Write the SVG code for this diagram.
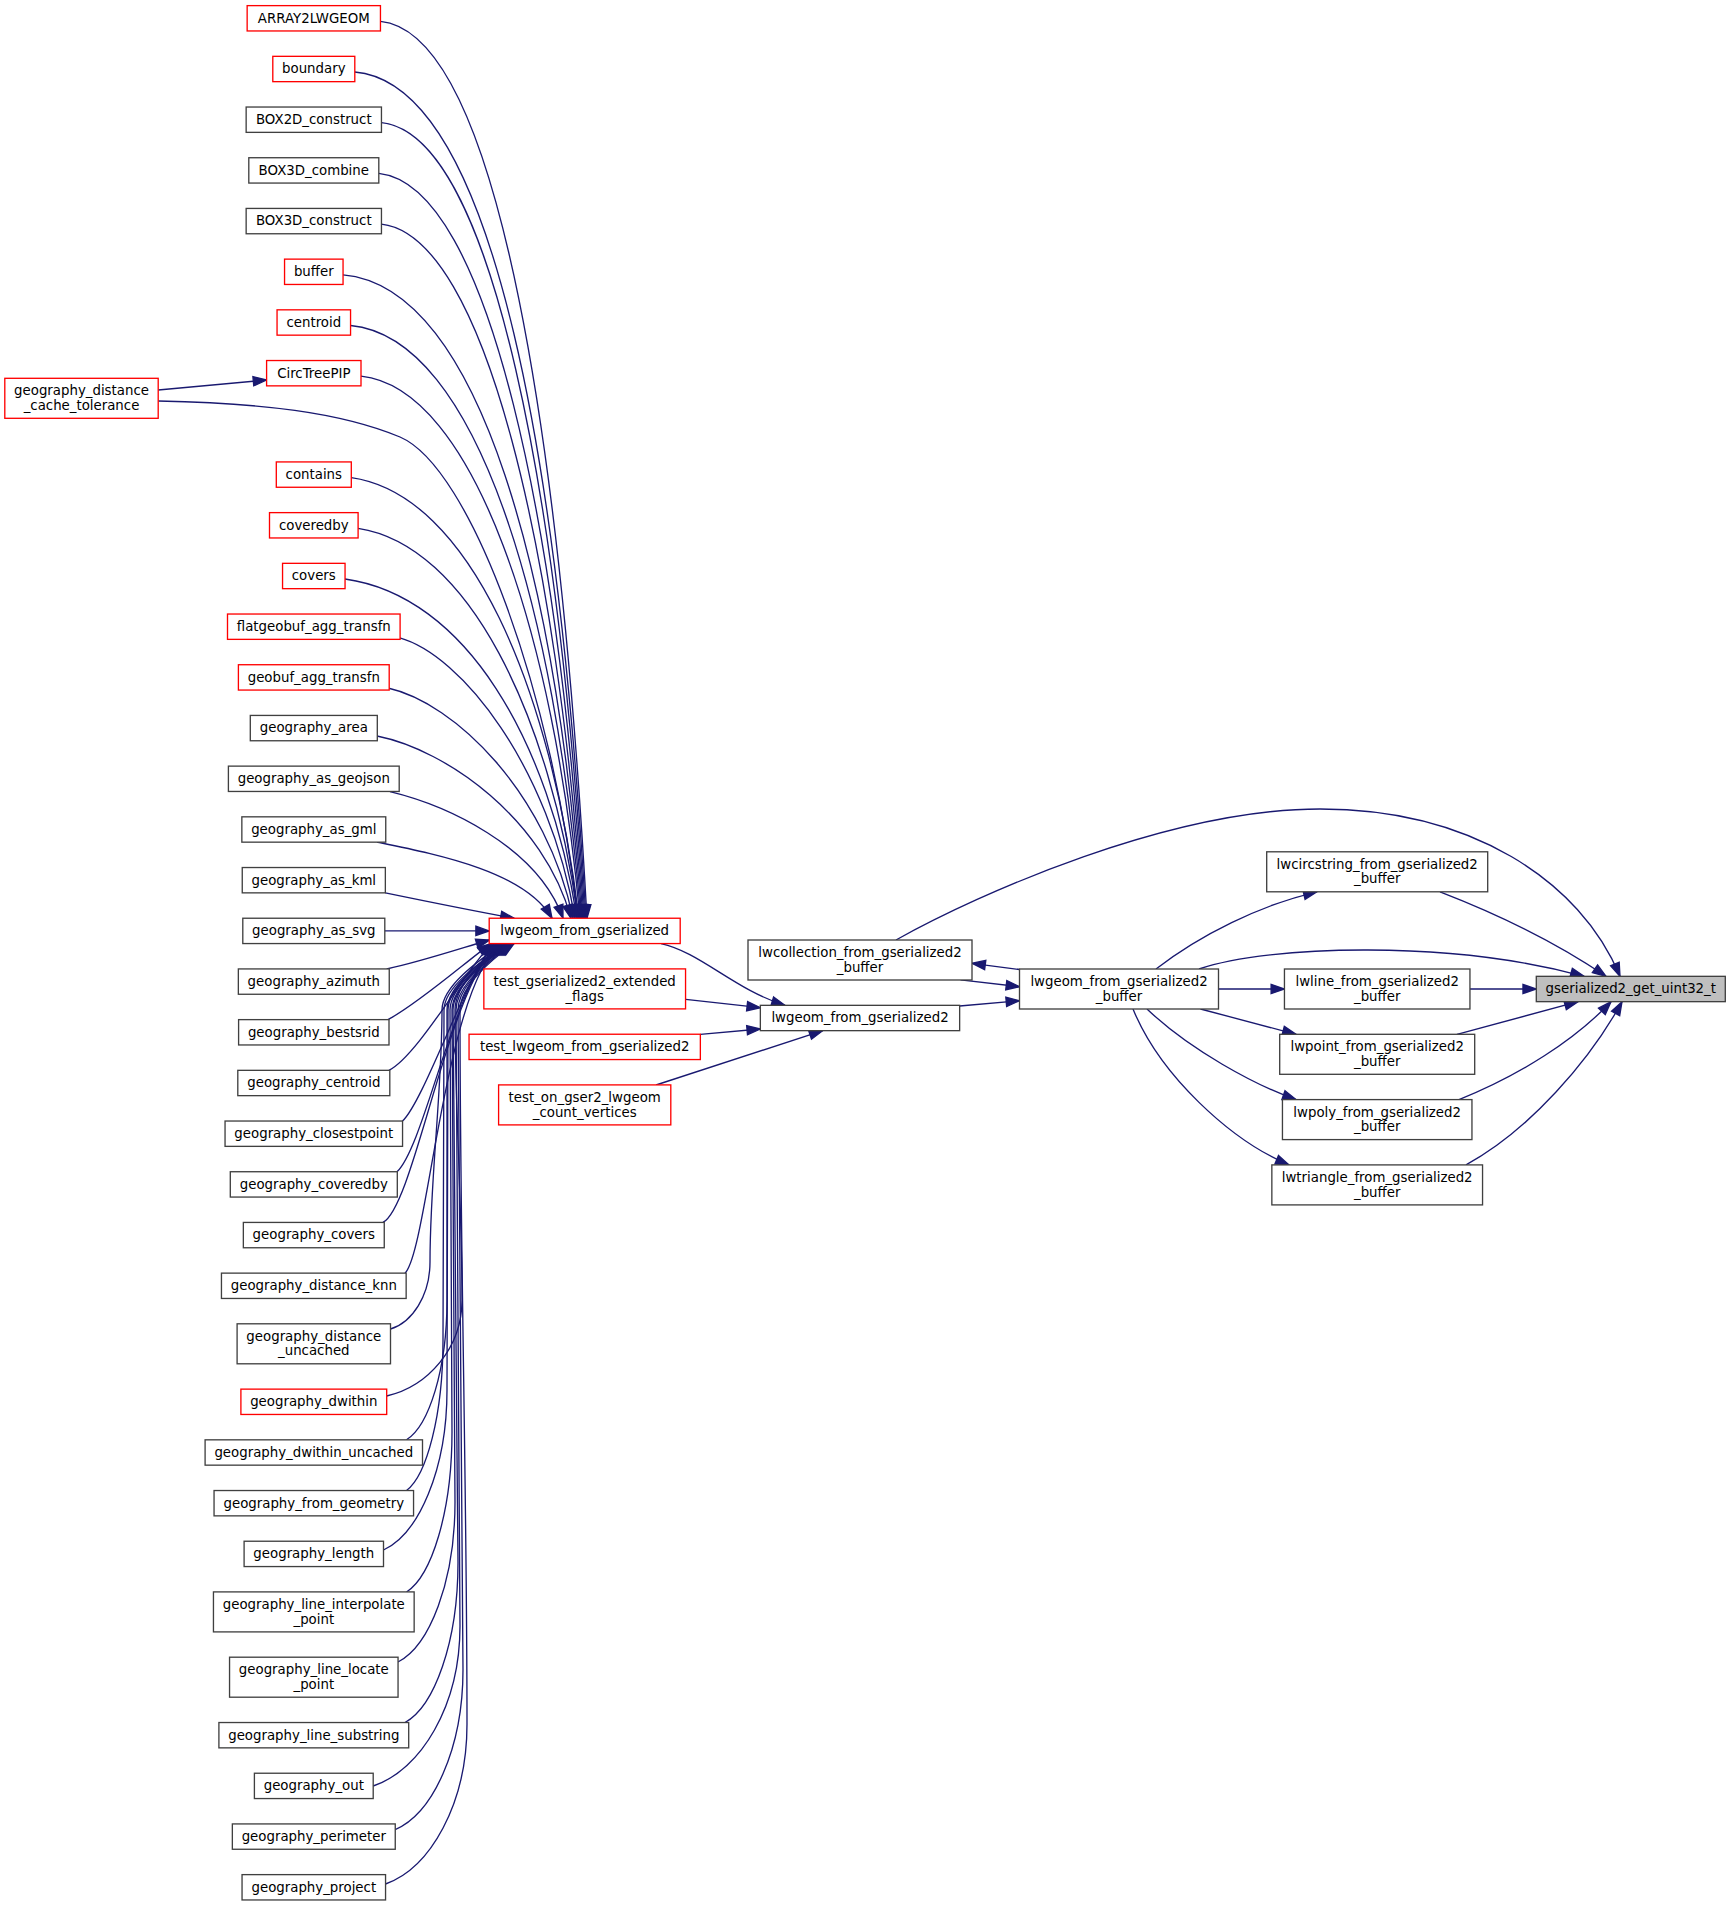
<svg xmlns="http://www.w3.org/2000/svg" width="1731" height="1908" viewBox="0 0 1731 1908">
<style>
.nd rect{fill:#fff;stroke:#404040;stroke-width:1.33}
.nd.red rect{stroke:#ff0000}
.nd.root rect{fill:#bfbfbf}
.nd text{font-family:"DejaVu Sans",sans-serif;font-size:13.33px;text-anchor:middle;fill:#000}
.e path{fill:none;stroke:#191970;stroke-width:1.33;marker-end:url(#ah)}
</style>
<defs>
<marker id="ah" markerUnits="userSpaceOnUse" markerWidth="16" markerHeight="12" refX="13.33" refY="4.67" orient="auto" overflow="visible"><path d="M0,0L13.33,4.67L0,9.33Z" fill="#191970" stroke="#191970" stroke-width="1.33"/></marker>
</defs>
<rect width="1731" height="1908" fill="#fff"/>
<g id="connectors" class="e">
<path d="M380.45,21.3C500,33.3 561,450.3 587,918.2"/>
<path d="M354.8,72C497,84 560,476.6 586,918.2"/>
<path d="M381.45,122.7C494,134.7 559,503 585,918.2"/>
<path d="M378.8,173.4C490,185.4 558,529.3 584,918.2"/>
<path d="M381.45,224.1C486,236.1 557,555.7 583,918.2"/>
<path d="M343.05,274.8C482,286.8 556,582.1 582,918.2"/>
<path d="M350.55,325.5C478,337.5 555,608.4 581,918.2"/>
<path d="M361,376.2C474,388.2 554,634.8 580,918.2"/>
<path d="M158.2,390L266.6,380"/>
<path d="M158.2,401C260,403 340,412 400,437C470,467 552,690 578,918.2"/>
<path d="M351.3,477.6C470,494.6 551,687.5 579,918.2"/>
<path d="M358.1,528.3C468,545 550,713.9 578,918.2"/>
<path d="M345.05,579C466,596 549,740.3 577,918.2"/>
<path d="M399,637.7C462,655 549,766.6 575,918.2"/>
<path d="M388,688C455,703 547,793 573,918.2"/>
<path d="M377,736C447,750 544,819.3 571,918.2"/>
<path d="M390,791.7C445,805 537,845.7 563,918.2"/>
<path d="M377,842C440,855 525,872 552,918.2"/>
<path d="M385.35,892.8C430,902 480,912 514,918.2"/>
<path d="M384.8,930.9L489.2,930.9"/>
<path d="M386.7,969C420,962 465,947 489.5,940"/>
<path d="M388,1019.6C418,1004 468,960 491,943.6"/>
<path d="M389,1070.3C419,1055 470,962 493,943.6"/>
<path d="M402.5,1121C425,1100 470,965 495,943.6"/>
<path d="M397,1171.8C425,1145 455,980 497,943.6"/>
<path d="M383,1222.4C415,1205 448,985 499,943.6"/>
<path d="M405,1273.2C428,1250 444,990 501,943.6"/>
<path d="M390.5,1329C412.2,1322.3 430,1295.5 430,1262C430,1178 442,1094 442,1010C442,985 483,957.6 503,943.6"/>
<path d="M386.7,1396C428.1,1386.4 462,1348 462,1300C462,1203.3 455,1106.7 455,1010C455,985 485,957.6 505,943.6"/>
<path d="M406.5,1439.8C428.8,1425.8 447,1369.9 447,1300C447,1203.3 447,1106.7 447,1010C447,985 486,957.6 506,943.6"/>
<path d="M406.5,1490.5C426.6,1475.5 443,1415.3 443,1340C443,1230 444,1120 444,1010C444,985 487,957.6 507,943.6"/>
<path d="M383.5,1550C418.4,1534 447,1470 447,1390C447,1263.3 448,1136.7 448,1010C448,985 488,957.6 508,943.6"/>
<path d="M406.5,1592C431.5,1576 452,1512 452,1432C452,1291.3 450,1150.7 450,1010C450,985 489,957.6 509,943.6"/>
<path d="M398,1662C429.4,1646 455,1582 455,1502C455,1338 452,1174 452,1010C452,985 490,957.6 510,943.6"/>
<path d="M405,1722.5C434.2,1706.5 458,1642.5 458,1562.5C458,1378.3 453,1194.2 453,1010C453,985 491,957.6 511,943.6"/>
<path d="M373.2,1786C420.9,1770 460,1706 460,1626C460,1420.7 456,1215.3 456,1010C456,985 492,957.6 512,943.6"/>
<path d="M395.2,1829.6C432.5,1813.6 463,1749.6 463,1669.6C463,1449.7 458,1229.9 458,1010C458,985 493,957.6 513,943.6"/>
<path d="M385.5,1884C430.3,1868 467,1804 467,1724C467,1486 460,1248 460,1010C460,985 494,957.6 514,943.6"/>
<path d="M661,943.6C700,952 735,990 785,1005.3"/>
<path d="M685.7,999.3L760.35,1007.7"/>
<path d="M700.4,1034.3L760.35,1029"/>
<path d="M656,1085L822.7,1030.7"/>
<path d="M960.5,979.8L1019.5,986.7"/>
<path d="M959.65,1006L1019.5,1000.7"/>
<path d="M1019.5,969.5L972,963.3"/>
<path d="M896,940C980,893 1170,809 1320,809C1470,809 1580,880 1620,976.3"/>
<path d="M1199,969C1270,945 1450,940 1584,976.3"/>
<path d="M1156,969C1200,935 1260,905 1317,891.8"/>
<path d="M1218.5,989L1284.45,989"/>
<path d="M1200.5,1009L1296,1034.3"/>
<path d="M1147,1009C1190,1050 1255,1085 1296,1099.6"/>
<path d="M1133,1009C1160,1075 1230,1140 1289,1164.9"/>
<path d="M1440,891.8C1500,915 1560,945 1606,976.3"/>
<path d="M1469.95,989L1536.3,989"/>
<path d="M1457,1034.3L1578,1001.7"/>
<path d="M1459,1099.6C1520,1075 1575,1040 1611,1001.7"/>
<path d="M1466,1164.9C1530,1130 1590,1060 1622,1001.7"/>
</g>
<g id="n_ARRAY2LWGEOM" class="nd red"><rect x="247.15" y="5.63" width="133.3" height="25.33"/><text x="313.8" y="22.63">ARRAY2LWGEOM</text></g>
<g id="n_boundary" class="nd red"><rect x="272.8" y="56.33" width="82" height="25.33"/><text x="313.8" y="73.33">boundary</text></g>
<g id="n_BOX2D_construct" class="nd"><rect x="246.15" y="107.03" width="135.3" height="25.33"/><text x="313.8" y="124.03">BOX2D_construct</text></g>
<g id="n_BOX3D_combine" class="nd"><rect x="248.8" y="157.73" width="130" height="25.33"/><text x="313.8" y="174.73">BOX3D_combine</text></g>
<g id="n_BOX3D_construct" class="nd"><rect x="246.15" y="208.43" width="135.3" height="25.33"/><text x="313.8" y="225.43">BOX3D_construct</text></g>
<g id="n_buffer" class="nd red"><rect x="284.55" y="259.13" width="58.5" height="25.33"/><text x="313.8" y="276.13">buffer</text></g>
<g id="n_centroid" class="nd red"><rect x="277.05" y="309.83" width="73.5" height="25.33"/><text x="313.8" y="326.83">centroid</text></g>
<g id="n_CircTreePIP" class="nd red"><rect x="266.6" y="360.53" width="94.4" height="25.33"/><text x="313.8" y="377.53">CircTreePIP</text></g>
<g id="n_geography_distance_cache_tolerance" class="nd red"><rect x="4.8" y="378.3" width="153.4" height="40"/><text x="81.5" y="395.3">geography_distance</text><text x="81.5" y="409.97">_cache_tolerance</text></g>
<g id="n_contains" class="nd red"><rect x="276.3" y="461.93" width="75" height="25.33"/><text x="313.8" y="478.93">contains</text></g>
<g id="n_coveredby" class="nd red"><rect x="269.5" y="512.63" width="88.6" height="25.33"/><text x="313.8" y="529.63">coveredby</text></g>
<g id="n_covers" class="nd red"><rect x="282.55" y="563.33" width="62.5" height="25.33"/><text x="313.8" y="580.33">covers</text></g>
<g id="n_flatgeobuf_agg_transfn" class="nd red"><rect x="227.5" y="614.03" width="172.6" height="25.33"/><text x="313.8" y="631.03">flatgeobuf_agg_transfn</text></g>
<g id="n_geobuf_agg_transfn" class="nd red"><rect x="238.4" y="664.73" width="150.8" height="25.33"/><text x="313.8" y="681.73">geobuf_agg_transfn</text></g>
<g id="n_geography_area" class="nd"><rect x="250.3" y="715.43" width="127" height="25.33"/><text x="313.8" y="732.43">geography_area</text></g>
<g id="n_geography_as_geojson" class="nd"><rect x="228.4" y="766.13" width="170.8" height="25.33"/><text x="313.8" y="783.13">geography_as_geojson</text></g>
<g id="n_geography_as_gml" class="nd"><rect x="241.85" y="816.83" width="143.9" height="25.33"/><text x="313.8" y="833.83">geography_as_gml</text></g>
<g id="n_geography_as_kml" class="nd"><rect x="242.25" y="867.53" width="143.1" height="25.33"/><text x="313.8" y="884.53">geography_as_kml</text></g>
<g id="n_geography_as_svg" class="nd"><rect x="242.8" y="918.23" width="142" height="25.33"/><text x="313.8" y="935.23">geography_as_svg</text></g>
<g id="n_geography_azimuth" class="nd"><rect x="238.35" y="968.93" width="150.9" height="25.33"/><text x="313.8" y="985.93">geography_azimuth</text></g>
<g id="n_geography_bestsrid" class="nd"><rect x="238.6" y="1019.63" width="150.4" height="25.33"/><text x="313.8" y="1036.63">geography_bestsrid</text></g>
<g id="n_geography_centroid" class="nd"><rect x="237.8" y="1070.33" width="152" height="25.33"/><text x="313.8" y="1087.33">geography_centroid</text></g>
<g id="n_geography_closestpoint" class="nd"><rect x="225.05" y="1121.03" width="177.5" height="25.33"/><text x="313.8" y="1138.03">geography_closestpoint</text></g>
<g id="n_geography_coveredby" class="nd"><rect x="230.3" y="1171.73" width="167" height="25.33"/><text x="313.8" y="1188.73">geography_coveredby</text></g>
<g id="n_geography_covers" class="nd"><rect x="243.35" y="1222.43" width="140.9" height="25.33"/><text x="313.8" y="1239.43">geography_covers</text></g>
<g id="n_geography_distance_knn" class="nd"><rect x="221.45" y="1273.13" width="184.7" height="25.33"/><text x="313.8" y="1290.13">geography_distance_knn</text></g>
<g id="n_geography_distance_uncached" class="nd"><rect x="237.1" y="1323.8" width="153.4" height="40"/><text x="313.8" y="1340.8">geography_distance</text><text x="313.8" y="1355.47">_uncached</text></g>
<g id="n_geography_dwithin" class="nd red"><rect x="240.9" y="1389.13" width="145.8" height="25.33"/><text x="313.8" y="1406.13">geography_dwithin</text></g>
<g id="n_geography_dwithin_uncached" class="nd"><rect x="205.1" y="1439.83" width="217.4" height="25.33"/><text x="313.8" y="1456.83">geography_dwithin_uncached</text></g>
<g id="n_geography_from_geometry" class="nd"><rect x="214.05" y="1490.53" width="199.5" height="25.33"/><text x="313.8" y="1507.53">geography_from_geometry</text></g>
<g id="n_geography_length" class="nd"><rect x="244.1" y="1541.23" width="139.4" height="25.33"/><text x="313.8" y="1558.23">geography_length</text></g>
<g id="n_geography_line_interpolate_point" class="nd"><rect x="213.45" y="1591.9" width="200.7" height="40"/><text x="313.8" y="1608.9">geography_line_interpolate</text><text x="313.8" y="1623.57">_point</text></g>
<g id="n_geography_line_locate_point" class="nd"><rect x="229.55" y="1657.2" width="168.5" height="40"/><text x="313.8" y="1674.2">geography_line_locate</text><text x="313.8" y="1688.87">_point</text></g>
<g id="n_geography_line_substring" class="nd"><rect x="218.9" y="1722.53" width="189.8" height="25.33"/><text x="313.8" y="1739.53">geography_line_substring</text></g>
<g id="n_geography_out" class="nd"><rect x="254.4" y="1773.23" width="118.8" height="25.33"/><text x="313.8" y="1790.23">geography_out</text></g>
<g id="n_geography_perimeter" class="nd"><rect x="232.35" y="1823.93" width="162.9" height="25.33"/><text x="313.8" y="1840.93">geography_perimeter</text></g>
<g id="n_geography_project" class="nd"><rect x="242.05" y="1874.63" width="143.5" height="25.33"/><text x="313.8" y="1891.63">geography_project</text></g>
<g id="n_lwgeom_from_gserialized" class="nd red"><rect x="489.2" y="918.23" width="191" height="25.33"/><text x="584.7" y="935.23">lwgeom_from_gserialized</text></g>
<g id="n_test_gserialized2_extended_flags" class="nd red"><rect x="483.85" y="968.9" width="201.7" height="40"/><text x="584.7" y="985.9">test_gserialized2_extended</text><text x="584.7" y="1000.57">_flags</text></g>
<g id="n_test_lwgeom_from_gserialized2" class="nd red"><rect x="469.05" y="1034.23" width="231.3" height="25.33"/><text x="584.7" y="1051.23">test_lwgeom_from_gserialized2</text></g>
<g id="n_test_on_gser2_lwgeom_count_vertices" class="nd red"><rect x="498.6" y="1084.9" width="172.2" height="40"/><text x="584.7" y="1101.9">test_on_gser2_lwgeom</text><text x="584.7" y="1116.57">_count_vertices</text></g>
<g id="n_lwcollection_from_gserialized2_buffer" class="nd"><rect x="748" y="940" width="224" height="40"/><text x="860" y="957">lwcollection_from_gserialized2</text><text x="860" y="971.67">_buffer</text></g>
<g id="n_lwgeom_from_gserialized2" class="nd"><rect x="760.35" y="1005.33" width="199.3" height="25.33"/><text x="860" y="1022.33">lwgeom_from_gserialized2</text></g>
<g id="n_lwgeom_from_gserialized2_buffer" class="nd"><rect x="1019.5" y="969" width="199" height="40"/><text x="1119" y="986">lwgeom_from_gserialized2</text><text x="1119" y="1000.67">_buffer</text></g>
<g id="n_lwcircstring_from_gserialized2_buffer" class="nd"><rect x="1266.7" y="851.8" width="221" height="40"/><text x="1377.2" y="868.8">lwcircstring_from_gserialized2</text><text x="1377.2" y="883.47">_buffer</text></g>
<g id="n_lwline_from_gserialized2_buffer" class="nd"><rect x="1284.45" y="969" width="185.5" height="40"/><text x="1377.2" y="986">lwline_from_gserialized2</text><text x="1377.2" y="1000.67">_buffer</text></g>
<g id="n_lwpoint_from_gserialized2_buffer" class="nd"><rect x="1279.7" y="1034.3" width="195" height="40"/><text x="1377.2" y="1051.3">lwpoint_from_gserialized2</text><text x="1377.2" y="1065.97">_buffer</text></g>
<g id="n_lwpoly_from_gserialized2_buffer" class="nd"><rect x="1282.45" y="1099.6" width="189.5" height="40"/><text x="1377.2" y="1116.6">lwpoly_from_gserialized2</text><text x="1377.2" y="1131.27">_buffer</text></g>
<g id="n_lwtriangle_from_gserialized2_buffer" class="nd"><rect x="1271.85" y="1164.9" width="210.7" height="40"/><text x="1377.2" y="1181.9">lwtriangle_from_gserialized2</text><text x="1377.2" y="1196.57">_buffer</text></g>
<g id="n_gserialized2_get_uint32_t" class="nd root"><rect x="1536.3" y="976.33" width="189" height="25.33"/><text x="1630.8" y="993.33">gserialized2_get_uint32_t</text></g>
</svg>
